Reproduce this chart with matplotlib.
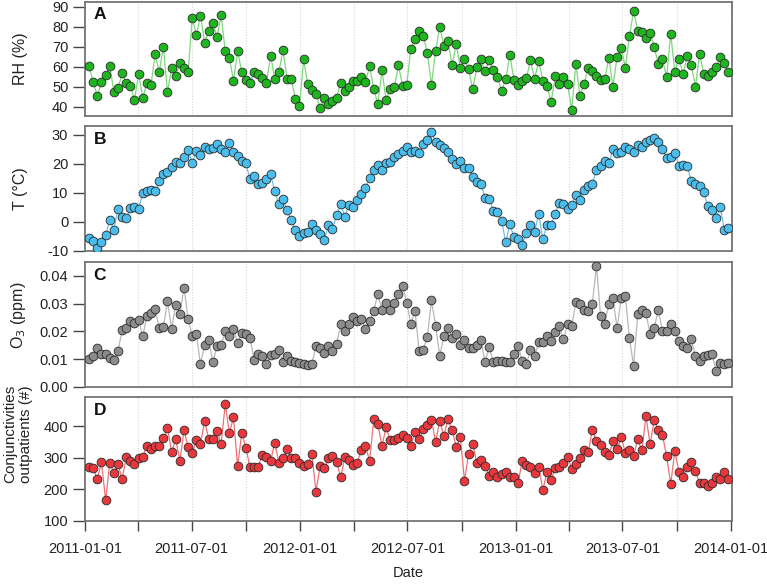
import numpy as np
import pandas as pd
import matplotlib
matplotlib.use("Agg")
import matplotlib.pyplot as plt

plt.rcParams['font.family'] = ['Liberation Sans', 'DejaVu Sans']

# weekly observations
dates = pd.date_range("2011-01-08", periods=156, freq="7D")

rh = [60.2, 52.2, 45.4, 52.5, 55.7, 60.4, 47.4, 49.2, 56.6, 51.9, 50.4, 43.5, 56.4, 44.5, 51.6, 50.7,
      66.3, 57.4, 70.1, 47.2, 59.4, 55.4, 61.6, 59.4, 57.1, 84.6, 76.0, 85.5, 72.0, 78.1, 82.0, 74.8,
      85.7, 67.8, 64.4, 53.0, 67.8, 57.4, 53.2, 51.7, 57.4, 56.4, 54.4, 51.9, 65.6, 53.9, 57.4, 68.3,
      53.9, 53.9, 44.0, 40.3, 63.6, 51.2, 48.2, 46.5, 39.3, 44.2, 41.2, 42.7, 44.5, 52.0, 47.7, 50.0,
      53.0, 53.0, 54.6, 52.4, 60.1, 49.0, 41.3, 58.1, 43.4, 48.7, 49.7, 60.6, 50.5, 51.0, 68.8, 74.0,
      78.1, 75.3, 66.9, 51.0, 67.9, 80.0, 70.4, 72.9, 60.6, 71.6, 59.1, 64.1, 58.6, 48.9, 59.6, 63.9,
      57.6, 63.2, 58.2, 54.7, 48.0, 53.7, 65.8, 53.5, 50.8, 52.7, 54.1, 63.2, 53.9, 62.9, 53.0, 50.2,
      42.3, 55.1, 51.2, 54.7, 51.2, 38.3, 61.4, 45.4, 51.5, 59.2, 57.6, 55.1, 53.4, 53.7, 64.4, 50.0,
      65.1, 69.4, 59.4, 75.5, 87.7, 78.1, 77.5, 74.5, 76.8, 69.9, 61.1, 63.6, 54.9, 76.5, 57.2, 64.1,
      56.1, 65.3, 60.6, 50.0, 66.4, 56.4, 55.1, 57.2, 59.6, 64.8, 61.6, 57.2]

temp = [-5.6, -6.4, -8.9, -7.0, -4.5, 0.6, -2.6, 4.6, 1.8, 1.3, 4.7, 5.3, 4.6, 10.0, 10.6, 11.1,
        10.7, 14.0, 16.7, 17.1, 19.1, 20.8, 20.2, 22.5, 24.9, 20.4, 24.5, 23.1, 25.7, 25.0, 25.6, 27.0,
        25.2, 24.3, 27.1, 24.3, 22.6, 20.9, 20.2, 14.7, 16.0, 13.2, 13.4, 14.7, 16.4, 10.7, 6.1, 8.0,
        4.0, 0.7, -2.8, -4.8, -3.7, -3.3, -0.8, -2.6, -4.0, -6.2, -1.2, -2.3, 2.4, 6.2, 1.7, 5.9,
        5.3, 7.7, 9.8, 11.8, 15.3, 18.0, 19.7, 17.9, 20.3, 20.7, 22.4, 23.3, 24.5, 25.9, 24.0, 24.5,
        23.7, 26.8, 28.4, 31.1, 27.6, 26.5, 25.6, 24.1, 21.8, 20.0, 21.0, 18.5, 18.7, 15.5, 13.8, 13.0,
        8.3, 8.1, 3.8, 3.6, 0.4, -7.0, -0.7, -5.3, -6.0, -7.9, -3.8, -1.2, -3.4, 2.8, -6.0, -0.9,
        -1.0, 2.8, 6.6, 6.1, 4.5, 5.9, 9.2, 7.6, 10.9, 12.4, 13.2, 17.9, 19.2, 21.2, 20.2, 25.0,
        23.7, 24.1, 25.9, 25.2, 24.3, 26.4, 25.9, 27.5, 28.4, 28.8, 27.6, 25.0, 22.1, 22.4, 23.7, 19.4,
        19.5, 19.2, 14.2, 13.0, 12.3, 10.3, 5.5, 4.2, 1.5, 5.3, -2.7, -2.0]

o3 = [.0101, .0113, .0139, .0120, .0118, .0103, .0096, .0130, .0204, .0211, .0239, .0231, .0242, .0182,
      .0257, .0267, .0281, .0211, .0216, .0308, .0209, .0296, .0262, .0358, .0245, .0185, .0190, .0083,
      .0151, .0168, .0091, .0146, .0151, .0200, .0185, .0209, .0159, .0195, .0190, .0178, .0097, .0118,
      .0113, .0083, .0115, .0118, .0134, .0089, .0110, .0093, .0089, .0085, .0083, .0079, .0082, .0149,
      .0139, .0121, .0149, .0128, .0154, .0226, .0202, .0226, .0251, .0238, .0244, .0209, .0239, .0275,
      .0335, .0277, .0304, .0277, .0303, .0335, .0365, .0304, .0227, .0275, .0130, .0135, .0180, .0312,
      .0221, .0112, .0182, .0213, .0175, .0190, .0151, .0168, .0139, .0139, .0151, .0168, .0089, .0144,
      .0091, .0094, .0094, .0091, .0089, .0119, .0149, .0094, .0082, .0133, .0110, .0161, .0161, .0184,
      .0167, .0198, .0218, .0172, .0227, .0220, .0305, .0300, .0276, .0273, .0300, .0436, .0254, .0227,
      .0299, .0320, .0212, .0320, .0329, .0175, .0077, .0262, .0277, .0267, .0190, .0214, .0276, .0200,
      .0202, .0227, .0200, .0167, .0149, .0139, .0173, .0110, .0094, .0110, .0115, .0118, .0059, .0085,
      .0082, .0088]

outpatients = [269.5, 266.3, 232.6, 286.3, 165.0, 284.2, 252.6, 278.9, 232.6, 301.0, 289.5, 278.9, 300.0,
               301.0, 337.9, 327.4, 337.9, 337.9, 361.0, 393.7, 317.9, 358.9, 289.5, 387.4, 333.7, 313.7,
               355.8, 343.2, 416.8, 358.9, 358.9, 384.2, 343.2, 470.5, 378.9, 427.4, 272.6, 377.9, 331.6,
               270.5, 270.5, 270.5, 308.4, 302.1, 289.5, 348.0, 283.0, 297.9, 326.3, 297.9, 297.9, 283.2,
               273.7, 278.9, 310.5, 193.0, 273.7, 266.3, 297.9, 305.3, 287.4, 237.9, 302.1, 292.6, 276.8,
               284.2, 325.3, 337.9, 289.5, 421.1, 405.3, 337.9, 395.8, 355.8, 354.7, 363.2, 371.6, 361.0,
               337.9, 381.0, 357.9, 389.5, 403.2, 418.9, 350.5, 415.8, 369.5, 421.1, 388.4, 333.7, 364.2,
               227.4, 312.6, 344.2, 283.2, 293.7, 273.7, 242.9, 255.8, 238.9, 247.4, 253.7, 237.9, 239.0,
               221.0, 289.5, 278.0, 270.5, 251.6, 270.5, 197.9, 253.7, 229.5, 266.3, 270.5, 282.1, 303.2,
               265.3, 278.9, 300.0, 323.2, 316.8, 388.4, 351.6, 341.1, 318.9, 308.4, 352.6, 327.4, 364.2,
               315.8, 324.2, 306.3, 357.9, 323.2, 431.6, 342.1, 418.9, 387.4, 371.6, 305.3, 216.8, 322.1,
               253.7, 237.9, 269.5, 287.4, 258.9, 218.9, 218.9, 210.5, 221.1, 237.9, 233.7, 253.7, 231.6]

panels = [
    ("A", rh, "RH (%)", "#1fb51f", "#7fd77f", (35.3, 92.4), [40, 50, 60, 70, 80, 90], "{:.0f}", 0.5),
    ("B", temp, "T (°C)", "#4bbdec", "#6cc2e8", (-10, 33.1), [-10, 0, 10, 20, 30], "{:.0f}", 0.5),
    ("C", o3, "O$_3$ (ppm)", "#8c8c8c", "#b8b8b8", (0, 0.045), [0, 0.01, 0.02, 0.03, 0.04], "{:.2f}", 0.57),
    ("D", outpatients, "Conjunctivities\noutpatients (#)", "#e8383d", "#ee7275", (100, 492),
     [100, 200, 300, 400], "{:.0f}", 0.7),
]

# axes rectangles in pixels (bottom, height)
rects = [(468, 114), (333, 125), (197, 125), (63, 124)]
W, H = 767, 584
left, width = 85 / W, 647 / W

quarters = pd.date_range("2011-01-01", "2014-01-01", freq="QS")
xlim = (pd.Timestamp("2011-01-01"), pd.Timestamp("2014-01-03"))

fig = plt.figure(figsize=(W / 100, H / 100), dpi=100)

for (letter, vals, ylabel, fc, lc, ylim, yticks, fmt, ly), (b, h) in zip(panels, rects):
    ax = fig.add_axes([left, b / H, width, h / H])
    for q in quarters[1:]:
        ax.axvline(q, color="#d6d6d6", ls=(0, (1, 1.5)), lw=0.8, zorder=0)
    ax.plot(dates, vals, color=lc, lw=0.9, zorder=2)
    ax.plot(dates, vals, ls="none", marker="o", ms=6.3, mfc=fc, mec="#2a2a2a", mew=0.6, zorder=3)
    ax.set_xlim(*xlim)
    ax.set_ylim(*ylim)
    ax.set_yticks(yticks)
    ax.set_yticklabels([fmt.format(v) for v in yticks])
    ax.tick_params(axis="y", direction="out", length=9, width=1, color="#444444",
                   labelsize=10.5, labelcolor="#222222", pad=3)
    for s in ax.spines.values():
        s.set_color("#747474")
        s.set_linewidth(1.3)
    if letter == "D":
        ax.set_ylabel(ylabel, fontsize=11, color="#222222", linespacing=1.1)
        ax.yaxis.set_label_coords(-0.081, ly)
    else:
        ax.set_ylabel(ylabel, fontsize=11.5, color="#222222")
        ax.yaxis.set_label_coords(-0.088, ly)
    ax.text(0.013, 0.955, letter, transform=ax.transAxes, ha="left", va="top",
            fontsize=12.5, fontweight="bold", color="#111111")
    if letter != "D":
        ax.tick_params(axis="x", length=0, labelbottom=False)
    else:
        ax.set_xticks(quarters)
        ax.set_xticklabels([d.strftime("%Y-%m-%d") if d.month in (1, 7) else "" for d in quarters])
        ax.tick_params(axis="x", direction="out", length=7, width=1, color="#444444",
                       labelsize=10.5, labelcolor="#222222", pad=8)
        ax.set_xlabel("Date", fontsize=10.5, color="#222222", labelpad=7)

fig.savefig("out.png", dpi=100)
